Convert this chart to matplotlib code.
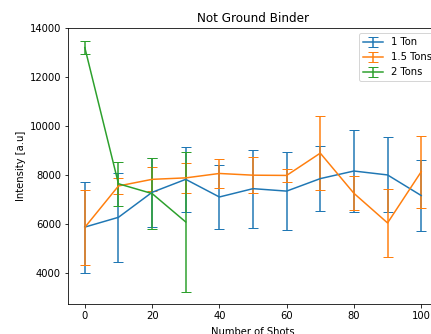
import numpy as np
import matplotlib
matplotlib.use("Agg")
import matplotlib.pyplot as plt

# shots fired
shots = [0, 10, 20, 30, 40, 50, 60, 70, 80, 90, 100]
shots_2t = [0, 10, 20, 30]

# 1 Ton
mean_1t = [5870, 6270, 7290, 7820, 7100, 7440, 7340, 7850, 8160, 8000, 7160]
err_1t = [1860, 1820, 1400, 1320, 1290, 1590, 1580, 1330, 1660, 1530, 1460]

# 1.5 Tons
mean_15t = [5860, 7550, 7820, 7880, 8060, 7990, 7980, 8890, 7250, 6040, 8130]
err_15t = [1530, 330, 490, 600, 590, 740, 260, 1520, 700, 1400, 1460]

# 2 Tons
mean_2t = [13200, 7640, 7240, 6080]
err_2t = [270, 900, 1440, 2840]

fig = plt.figure(figsize=(431 / 72, 334 / 72), dpi=72)
ax = fig.add_axes([68 / 431, 30 / 334, 370 / 431, 276 / 334])

ax.errorbar(shots, mean_1t, yerr=err_1t, capsize=5, label="1 Ton")
ax.errorbar(shots, mean_15t, yerr=err_15t, capsize=5, label="1.5 Tons")
ax.errorbar(shots_2t, mean_2t, yerr=err_2t, capsize=5, label="2 Tons")

ax.set_xlim(-5, 105)
ax.set_ylim(2730, 14000)
ax.set_title("Not Ground Binder")
ax.set_xlabel("Number of Shots", labelpad=6)
ax.set_ylabel("Intensity [a.u]")
ax.legend(loc="upper right", bbox_to_anchor=(1.009, 1))

fig.savefig("out.png", dpi=72)
